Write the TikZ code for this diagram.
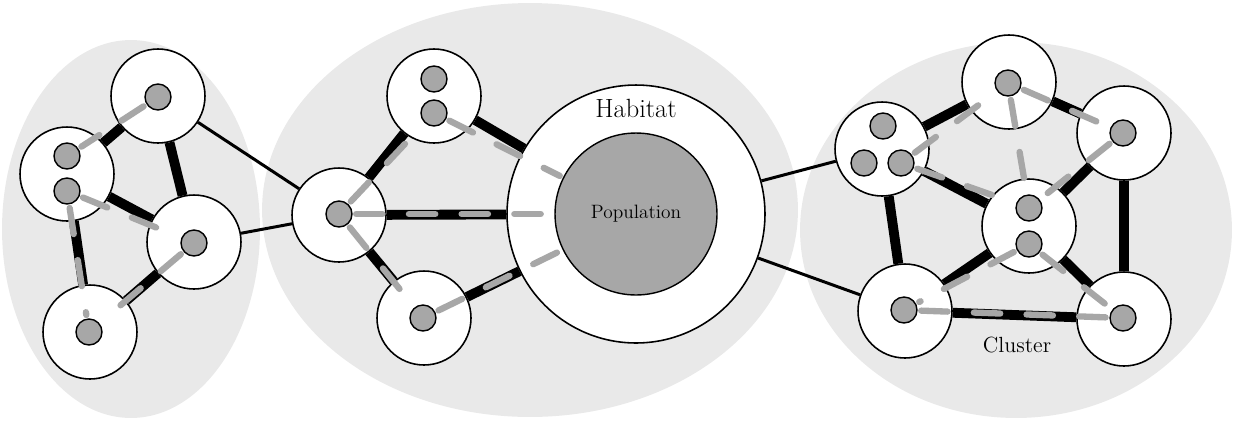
\documentclass[tikz,border=0pt]{standalone}
\usepackage{xcolor}
\usepackage{tikz}
\definecolor{bgshade}{gray}{0.915}
\definecolor{popgray}{gray}{0.655}
\tikzset{
	cluster/.style={fill=bgshade, draw=none},
	patch/.style={circle, draw, fill=white, line width=0.9pt, minimum size=1.88cm, inner sep=0pt},
	indiv/.style={circle, draw, fill=popgray, line width=0.8pt, minimum size=0.52cm, inner sep=0pt},
	corridor/.style={black, line width=1.7pt},
	link/.style={black, line width=5.6pt},
	flow/.style={draw=popgray, line width=3.6pt, line cap=round, dash pattern=on 15pt off 15pt, shorten <=2pt, shorten >=2pt}
}

\begin{document}
\begin{tikzpicture}[x=0.02cm, y=-0.02cm]
				\useasboundingbox (0,0) rectangle (1240,427);
				\fill [cluster]	(131,229) ellipse [x radius=2.58cm, y radius=3.78cm]
								(530,210) ellipse [x radius=5.36cm, y radius=4.14cm]
								(1016,230) ellipse [x radius=4.32cm, y radius=3.76cm];
				\node [patch] (l1) at (158,96) {};
				\node [patch] (l2) at (67,174) {};
				\node [patch] (l3) at (194,242) {};
				\node [patch] (l4) at (90,332) {};
				\node [patch] (m1) at (339,215) {};
				\node [patch] (m2) at (434,96) {};
				\node [patch] (m3) at (424,318) {};
				\node [patch, minimum size=5.16cm] (hab) at (636,214) {};
				\node [patch] (r1) at (882,149) {};
				\node [patch] (r2) at (1009,82) {};
				\node [patch] (r3) at (1124,133) {};
				\node [patch] (r4) at (1029,226) {};
				\node [patch] (r5) at (905,311) {};
				\node [patch] (r6) at (1124,319) {};
				\node [indiv, minimum size=3.24cm, font=\fontsize{11}{13}\selectfont] (pop) at (636,214) {Population};
				\node [font=\fontsize{15}{18}\selectfont] (habtext) at (636,108) {Habitat};
				\node [font=\fontsize{12.5}{15}\selectfont] (clustertext) at (1017,345) {Cluster};
				\node [indiv] (l1a) at (158,97) {};
				\node [indiv] (l2a) at (67,156) {};
				\node [indiv] (l2b) at (67,191) {};
				\node [indiv] (l3a) at (194,243) {};
				\node [indiv] (l4a) at (89,332) {};
				\node [indiv] (m1a) at (339,214) {};
				\node [indiv] (m2a) at (434,79) {};
				\node [indiv] (m2b) at (434,113) {};
				\node [indiv] (m3a) at (423,318) {};
				\node [indiv] (r1a) at (883,126) {};
				\node [indiv] (r1b) at (864,163) {};
				\node [indiv] (r1c) at (901,163) {};
				\node [indiv] (r2a) at (1008,83) {};
				\node [indiv] (r3a) at (1123,133) {};
				\node [indiv] (r4a) at (1029,208) {};
				\node [indiv] (r4b) at (1029,244) {};
				\node [indiv] (r5a) at (904,310) {};
				\node [indiv] (r6a) at (1123,318) {};
				\draw [corridor]	(l1) -- (m1)
									(l3) -- (m1)
									(hab) -- (r1)
									(hab) -- (r5);
				\draw [link]	(l1) -- (l2)
								(l1) -- (l3)
								(l2) -- (l3)
								(l2) -- (l4)
								(l3) -- (l4)
								(m1) -- (m2)
								(m2) -- (hab)
								(m1) -- (hab)
								(m1) -- (m3)
								(m3) -- (hab)
								(r1) -- (r2)
								(r2) -- (r3)
								(r3) -- (r4)
								(r3) -- (r6)
								(r1) -- (r4)
								(r1) -- (r5)
								(r4) -- (r5)
								(r4) -- (r6)
								(r5) -- (r6);
				\draw [flow] (l1a) -- (l2a);
				\draw [flow] (l2b) -- (l3a);
				\draw [flow] (l2b) -- (l4a);
				\draw [flow] (l3a) -- (l4a);
				\draw [flow] (m1a) -- (m2b);
				\draw [flow] (m2b) -- (pop);
				\draw [flow] (m1a) -- (pop);
				\draw [flow] (m1a) -- (m3a);
				\draw [flow] (m3a) -- (pop);
				\draw [flow] (r1c) -- (r2a);
				\draw [flow] (r2a) -- (r3a);
				\draw [flow] (r2a) -- (r4a);
				\draw [flow] (r3a) -- (r4a);
				\draw [flow] (r1c) -- (r4a);
				\draw [flow] (r4b) -- (r5a);
				\draw [flow] (r4b) -- (r6a);
				\draw [flow] (r5a) -- (r6a);
			\end{tikzpicture}
\end{document}
